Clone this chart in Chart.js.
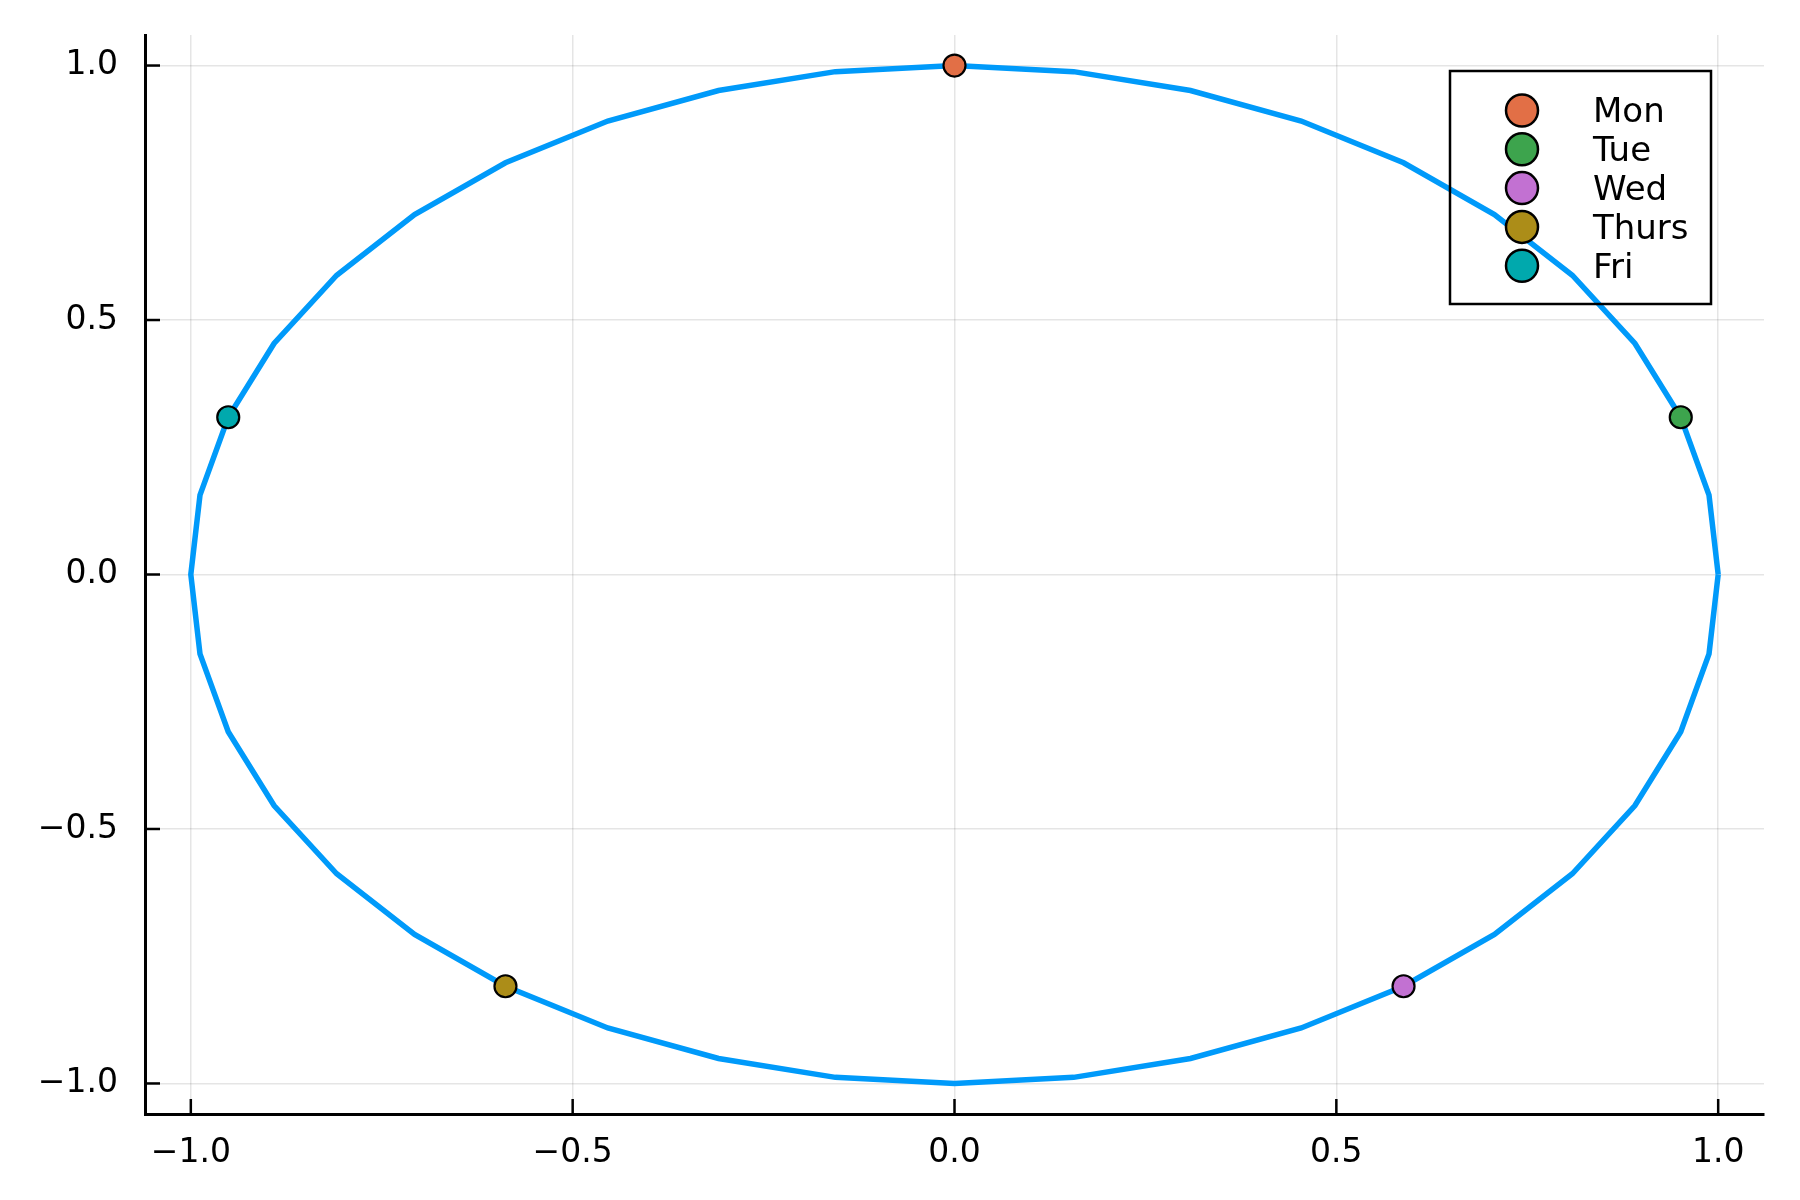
<!DOCTYPE html>
<html>
<head>
<meta charset="utf-8">
<script src="https://cdn.jsdelivr.net/npm/chart.js@4.4.1/dist/chart.umd.min.js"></script>
<style>
  body{margin:0;background:#fff;}
  #wrap{width:1800px;height:1200px;}
</style>
</head>
<body>
<div id="wrap"><canvas id="circlechart" width="1800" height="1200"></canvas></div>
<script>
// ring outline (41 vertices, closes on itself)
const ringX=[1,0.988,0.951,0.891,0.809,0.707,0.588,0.454,0.309,0.156,0,-0.156,-0.309,-0.454,-0.588,-0.707,-0.809,-0.891,-0.951,-0.988,-1,-0.988,-0.951,-0.891,-0.809,-0.707,-0.588,-0.454,-0.309,-0.156,0,0.156,0.309,0.454,0.588,0.707,0.809,0.891,0.951,0.988,1];
const ringY=[0,0.156,0.309,0.454,0.588,0.707,0.809,0.891,0.951,0.988,1,0.988,0.951,0.891,0.809,0.707,0.588,0.454,0.309,0.156,0,-0.156,-0.309,-0.454,-0.588,-0.707,-0.809,-0.891,-0.951,-0.988,-1,-0.988,-0.951,-0.891,-0.809,-0.707,-0.588,-0.454,-0.309,-0.156,0];

const days=['Mon','Tue','Wed','Thurs','Fri'];
const dayX=[0,0.951,0.588,-0.588,-0.951];
const dayY=[1,0.309,-0.809,-0.809,0.309];
const dayColors=['#e26f46','#3da44d','#c271d2','#ac8d18','#00a9ad'];

const xTicks=[-1,-0.5,0,0.5,1];
const xTickLabels=['\u22121.0','\u22120.5','0.0','0.5','1.0'];
const yTicks=[-1,-0.5,0,0.5,1];
const yTickLabels=['\u22121.0','\u22120.5','0.0','0.5','1.0'];

const FONT='"DejaVu Sans", sans-serif';

const datasets=[{
    label:'ring',
    data:ringX.map((x,i)=>({x:x,y:ringY[i]})),
    showLine:true,
    borderColor:'#009afa',
    borderWidth:5.5,
    pointRadius:0,
    tension:0,
    order:10
}];
days.forEach((d,i)=>{
    datasets.push({
        label:d,
        data:[{x:dayX[i],y:dayY[i]}],
        backgroundColor:dayColors[i],
        borderColor:'#000',
        borderWidth:2.2,
        pointRadius:11,
        order:1
    });
});

// plots-style inward ticks + framed legend
const extras={
    id:'extras',
    afterDatasetsDraw(chart){
        const ctx=chart.ctx;
        const a=chart.chartArea;
        const xs=chart.scales.x, ys=chart.scales.y;
        ctx.save();
        ctx.strokeStyle='#000';
        ctx.lineWidth=2.5;
        xTicks.forEach(v=>{
            const px=xs.getPixelForValue(v);
            ctx.beginPath();ctx.moveTo(px,a.bottom);ctx.lineTo(px,a.bottom-15);ctx.stroke();
        });
        yTicks.forEach(v=>{
            const py=ys.getPixelForValue(v);
            ctx.beginPath();ctx.moveTo(a.left,py);ctx.lineTo(a.left+15,py);ctx.stroke();
        });

        // legend box
        const bx=a.right-314, by=a.top+36, bw=261, bh=233;
        ctx.lineWidth=2.5;
        ctx.strokeRect(bx,by,bw,bh);
        ctx.font='34px '+FONT;
        ctx.textBaseline='middle';
        ctx.textAlign='left';
        days.forEach((d,i)=>{
            const cy=by+39.5+i*38.8;
            ctx.beginPath();
            ctx.arc(bx+72,cy,16,0,Math.PI*2);
            ctx.fillStyle=dayColors[i];
            ctx.fill();
            ctx.lineWidth=2.5;
            ctx.stroke();
            ctx.fillStyle='#000';
            ctx.fillText(d,bx+143,cy+3);
        });
        ctx.restore();
    }
};

const ctx=document.getElementById('circlechart').getContext('2d');
const circlechart=new Chart(ctx,{
    type:'scatter',
    data:{datasets:datasets},
    options:{
        responsive:false,
        animation:false,
        devicePixelRatio:1,
        layout:{padding:{left:0,top:35,right:36,bottom:0}},
        plugins:{legend:{display:false},tooltip:{enabled:false}},
        scales:{
            x:{
                min:-1.06,max:1.06,
                afterBuildTicks:s=>{s.ticks=xTicks.map(v=>({value:v}));},
                afterFit:s=>{s.height=86;s.paddingLeft=0;s.paddingRight=0;},
                ticks:{
                    callback:(v)=>xTickLabels[xTicks.indexOf(v)],
                    color:'#000',
                    font:{family:FONT,size:33},
                    padding:20,
                    maxRotation:0
                },
                grid:{color:'rgba(0,0,0,0.1)',lineWidth:1.5,drawTicks:false},
                border:{color:'#000',width:3}
            },
            y:{
                min:-1.06,max:1.06,
                afterBuildTicks:s=>{s.ticks=yTicks.map(v=>({value:v}));},
                afterFit:s=>{s.width=145;s.paddingTop=0;s.paddingBottom=0;},
                ticks:{
                    callback:(v)=>yTickLabels[yTicks.indexOf(v)],
                    color:'#000',
                    font:{family:FONT,size:33},
                    padding:27
                },
                grid:{color:'rgba(0,0,0,0.1)',lineWidth:1.5,drawTicks:false},
                border:{color:'#000',width:3}
            }
        }
    },
    plugins:[extras]
});
</script>
</body>
</html>
